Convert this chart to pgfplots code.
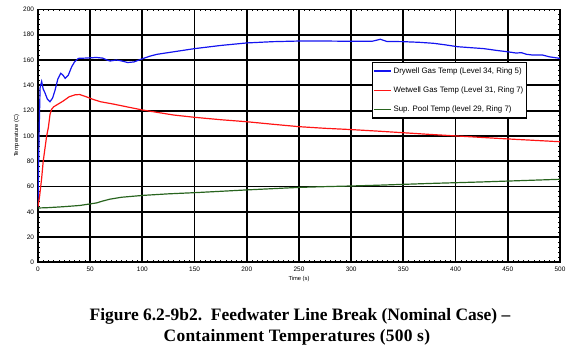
\documentclass[border=0pt]{standalone}
\usepackage{pgfplots}
\pgfplotsset{compat=1.18}
\usepackage{fontspec}
\setmainfont{Liberation Sans}
\newfontfamily\capfont[Ligatures=TeX]{Liberation Serif}
\newfontfamily\capfontwide[Ligatures=TeX, LetterSpace=1.5]{Liberation Serif}
\definecolor{dwblue}{RGB}{20,20,240}
\definecolor{wwred}{RGB}{255,20,20}
\definecolor{spgreen}{RGB}{40,100,30}
\begin{document}
\begin{tikzpicture}
\begin{axis}[
  scale only axis, width=522bp, height=253bp,
  xmin=0, xmax=500, ymin=0, ymax=200,
  xtick={0,50,...,500}, ytick={0,20,...,200},
  minor x tick num=9, minor y tick num=4,
  grid=major,
  major grid style={black, line width=1.8bp},
  axis line style={black, line width=1.8bp},
  major tick style={black, line width=0.6pt},
  minor tick style={black, line width=0.6pt},
  major tick length=2.5bp, minor tick length=2bp,
  /pgf/number format/assume math mode=true,
  tick label style={font=\fontsize{6.5}{7}\selectfont},
  xticklabel style={yshift=-1bp},
  yticklabel style={xshift=-0.5bp},
  xlabel={Time (s)}, ylabel={Temperature (C)},
  label style={font=\fontsize{5.8}{6}\selectfont},
  xlabel style={yshift=2bp},
  ylabel style={yshift=-3bp},
  legend cell align=left,
  legend style={at={(0.639,0.793)}, anchor=north west, draw=black, line width=1.5bp,
    font=\fontsize{7.9}{8}\selectfont, row sep=8bp, inner ysep=3bp, inner xsep=1bp},
  legend image post style={line width=1.3pt},
]
\addplot[dwblue, line width=1.2pt] coordinates {
(0,44)(1,100)(2,138)(3.5,143)(5,137)(6.7,134)(9,129)(11.5,127)(14,130)(16.3,136)(19,145)(21.8,149.5)(24,148)(26,145.5)(29,148)(32.3,154.7)(35,158.5)(38.7,161.3)(45,161.5)(56,162)(62,161.5)(66,160)(69,159.2)(75,160)(80,159.3)(86,158)(92,158.5)(98,160.4)(107,163)(114,164.5)(130,166.5)(150,169)(175,171.5)(200,173.5)(225,174.5)(250,175)(275,175)(300,174.8)(320,174.8)(328,176.4)(334,174.7)(350,174.5)(365,174)(379,173.2)(390,172)(402,170.5)(427,169)(440,167.5)(450,166.5)(458,165.5)(463,165.8)(468,164.5)(473,164)(483,164)(490,162.5)(500,161.3)
};
\addlegendentry{Drywell Gas Temp (Level 34, Ring 5)}
\addplot[wwred, line width=1.2pt] coordinates {
(0,44)(1.5,52)(3.5,66.5)(5,80)(8.3,100)(10,107)(11.5,117)(13,121)(15,123)(18,124.5)(24,127.5)(30,131)(35.5,132.5)(40,132.7)(46,131)(53,128.8)(60,127)(72,125.2)(85,123)(100,120.5)(115,118.5)(130,116.5)(150,114.7)(175,112.8)(200,111.2)(225,109.2)(250,107.3)(275,106)(300,105)(325,103.8)(350,102.5)(375,101.2)(400,100)(425,98.8)(450,97.6)(475,96.5)(500,95.4)
};
\addlegendentry{Wetwell Gas Temp (Level 31, Ring 7)}
\addplot[spgreen, line width=1.2pt] coordinates {
(0,43)(10,43.3)(24,44)(40,45)(56,47)(62,48.5)(69,50)(80,51.5)(101,53)(125,54.2)(152,55.2)(175,56.2)(200,57.3)(225,58.3)(250,59.3)(275,59.9)(300,60.4)(325,61)(350,61.7)(375,62.4)(400,63)(425,63.6)(450,64.3)(475,65)(500,65.7)
};
\addlegendentry{Sup. Pool Temp (level 29, Ring 7)}
\coordinate (bl) at (rel axis cs:-0.0728,-0.350);
\coordinate (tr) at (rel axis cs:1.0307,1.0372);
\coordinate (c1) at (rel axis cs:0.502,-0.228);
\coordinate (c2) at (rel axis cs:0.496,-0.313);
\end{axis}
\path (bl) rectangle (tr);
\node[anchor=base, inner sep=0pt, font=\capfont\bfseries\fontsize{17.5}{19}\selectfont] at (c1) {Figure 6.2-9b2.\ \ Feedwater Line Break (Nominal Case) --};
\node[anchor=base, inner sep=0pt, font=\capfontwide\bfseries\fontsize{17.5}{19}\selectfont] at (c2) {Containment Temperatures (500 s)};
\end{tikzpicture}
\end{document}
